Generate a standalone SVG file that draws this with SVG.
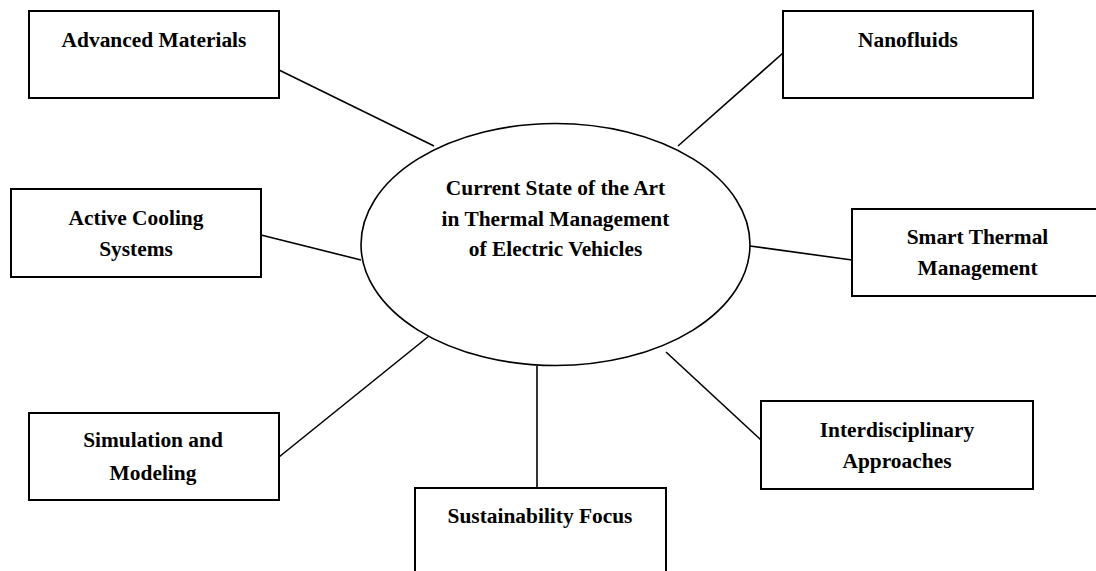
<svg xmlns="http://www.w3.org/2000/svg" width="1096" height="571" viewBox="0 0 1096 571">
<style>
.box{fill:#fff;stroke:#000;stroke-width:2}
.ell{fill:#fff;stroke:#000;stroke-width:1.6}
.lbl{font-family:"Liberation Serif","Times New Roman",serif;font-weight:bold;font-size:21.4px;fill:#000;text-anchor:middle}
#connectors line{stroke:#000;stroke-width:1.6}
</style>
<rect width="1096" height="571" fill="#fff"/>
<g id="connectors">
<line x1="279" y1="70" x2="434" y2="146"/>
<line x1="783" y1="53" x2="678" y2="146"/>
<line x1="261" y1="235" x2="361" y2="260"/>
<line x1="750" y1="246" x2="852" y2="260"/>
<line x1="279" y1="457" x2="434" y2="332"/>
<line x1="537" y1="366" x2="537" y2="488"/>
<line x1="666" y1="352" x2="761" y2="440"/>
</g>
<g id="center">
<ellipse class="ell" cx="555.5" cy="244.5" rx="194.5" ry="121"/>
<text class="lbl" x="555.5" y="195">Current State of the Art</text>
<text class="lbl" x="555.5" y="226">in Thermal Management</text>
<text class="lbl" x="555.5" y="256">of Electric Vehicles</text>
</g>
<g id="advanced-materials">
<rect class="box" x="29" y="11" width="250" height="87"/>
<text class="lbl" x="154" y="47">Advanced Materials</text>
</g>
<g id="nanofluids">
<rect class="box" x="783" y="11" width="250" height="87"/>
<text class="lbl" x="908" y="47">Nanofluids</text>
</g>
<g id="active-cooling">
<rect class="box" x="11" y="189" width="250" height="88"/>
<text class="lbl" x="136" y="225">Active Cooling</text>
<text class="lbl" x="136" y="256">Systems</text>
</g>
<g id="smart-thermal">
<rect class="box" x="852" y="209" width="250" height="87"/>
<text class="lbl" x="977.5" y="244">Smart Thermal</text>
<text class="lbl" x="977.5" y="275">Management</text>
</g>
<g id="simulation">
<rect class="box" x="29" y="413" width="250" height="87"/>
<text class="lbl" x="153" y="447">Simulation and</text>
<text class="lbl" x="153" y="480">Modeling</text>
</g>
<g id="sustainability">
<rect class="box" x="415" y="488" width="251" height="90"/>
<text class="lbl" x="540" y="523">Sustainability Focus</text>
</g>
<g id="interdisciplinary">
<rect class="box" x="761" y="401" width="272" height="88"/>
<text class="lbl" x="897" y="437">Interdisciplinary</text>
<text class="lbl" x="897" y="468">Approaches</text>
</g>
</svg>
